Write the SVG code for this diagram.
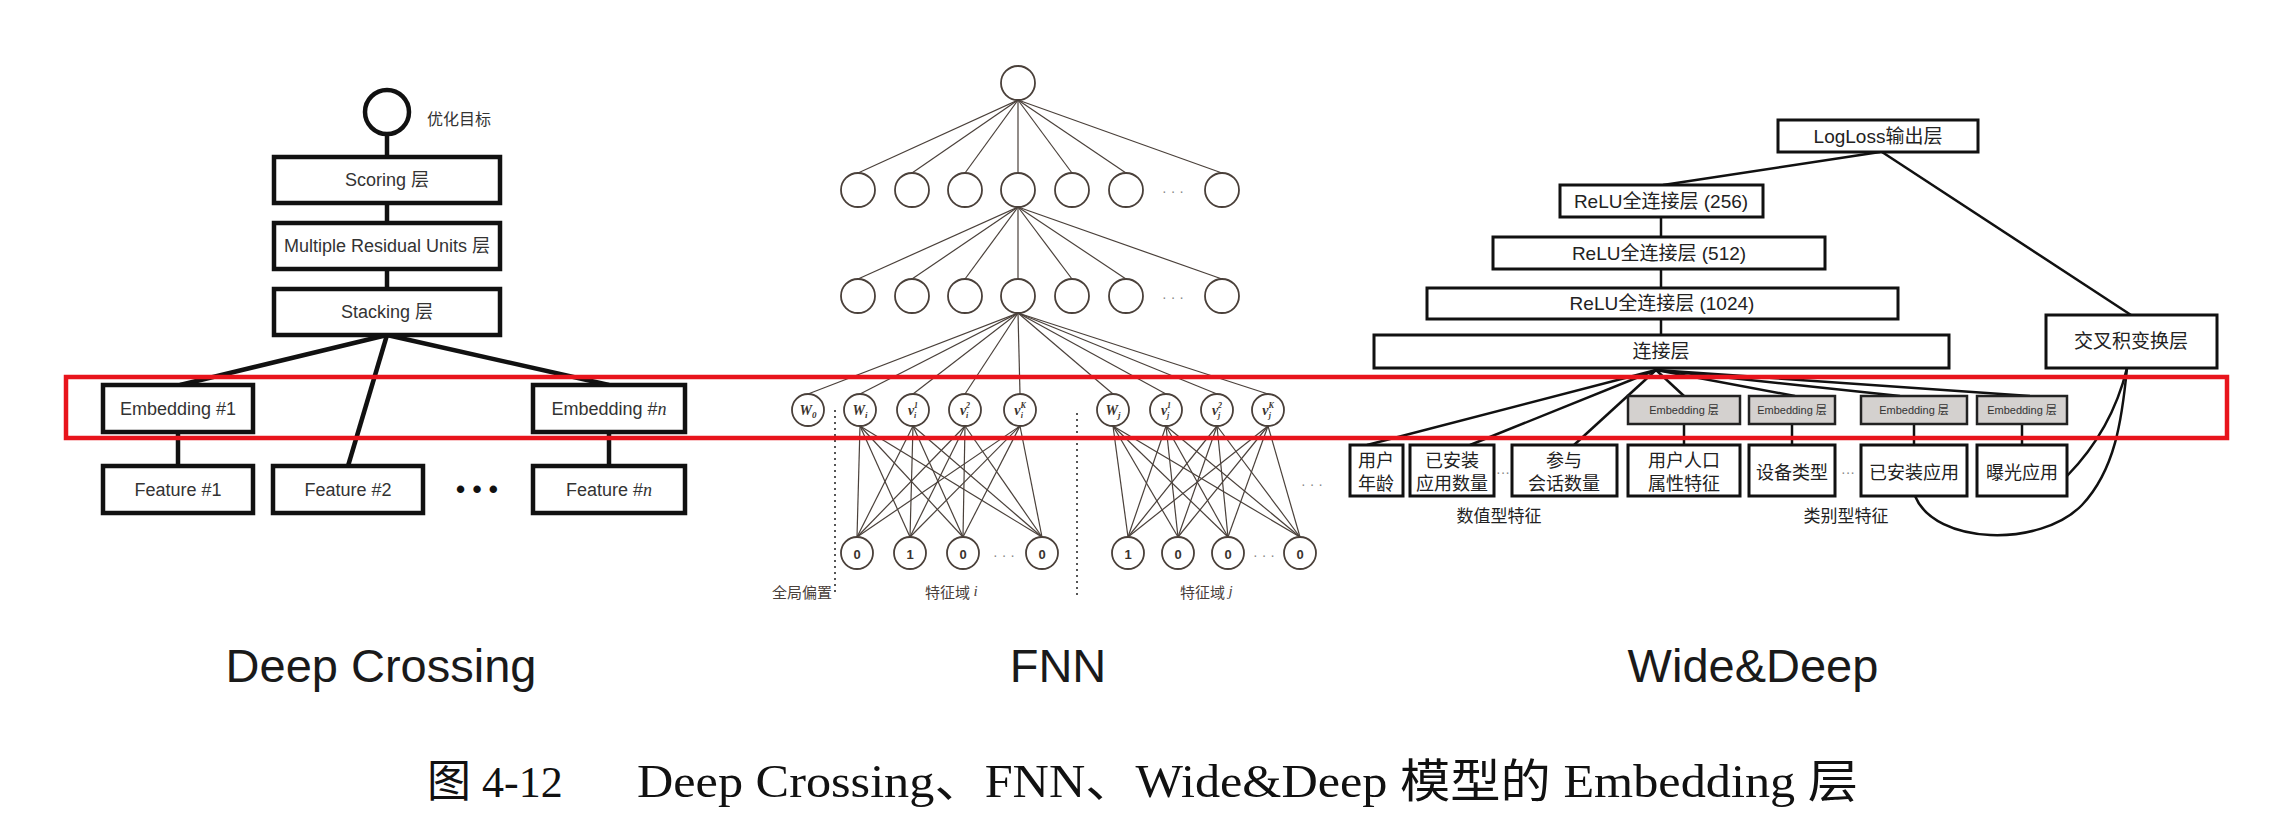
<svg xmlns="http://www.w3.org/2000/svg" width="2284" height="830" viewBox="0 0 2284 830">
<style>
.bg{fill:#fff}
.dcbox{fill:#fff;stroke:#111;stroke-width:4.5}
.dcline{stroke:#111;stroke-width:4.5;fill:none}
.dct{font-family:"Liberation Sans","Noto Sans CJK SC",sans-serif;font-size:18px;fill:#333;text-anchor:middle;dominant-baseline:central}
.fn{fill:#fff;stroke:#4a403a;stroke-width:1.8}
.fe{stroke:#4a403a;stroke-width:1.2;fill:none}
.fsep{stroke:#555;stroke-width:2;stroke-dasharray:2 4;fill:none}
.fl{font-family:"Liberation Serif","Noto Sans CJK SC",serif;font-style:italic;font-weight:bold;font-size:14px;fill:#3a322d;text-anchor:middle}
.fb{font-family:"Liberation Sans",sans-serif;font-weight:bold;font-size:13px;fill:#3a322d;text-anchor:middle;dominant-baseline:central}
.fcap{font-family:"Noto Sans CJK SC",sans-serif;font-size:15px;fill:#4a403a;dominant-baseline:central}
.dots{font-family:"Liberation Sans",sans-serif;font-size:14px;fill:#888;text-anchor:middle;dominant-baseline:central}
.wbox{fill:#fff;stroke:#111;stroke-width:3}
.wemb{fill:#d4d1cf;stroke:#222;stroke-width:2.5}
.wline{stroke:#111;stroke-width:2.5;fill:none}
.wt{font-family:"Liberation Sans","Noto Sans CJK SC",sans-serif;font-size:19px;fill:#222;text-anchor:middle;dominant-baseline:central}
.wf{font-family:"Noto Sans CJK SC",sans-serif;font-size:18px;fill:#222;text-anchor:middle;dominant-baseline:central}
.we{font-family:"Liberation Sans","Noto Sans CJK SC",sans-serif;font-size:11px;fill:#333;text-anchor:middle;dominant-baseline:central}
.title{font-family:"Liberation Sans",sans-serif;font-size:47px;fill:#1a1a1a;text-anchor:middle}
.cap{font-family:"Liberation Serif","Noto Sans CJK SC",serif;font-size:44px;fill:#111}
</style>
<rect class="bg" x="0" y="0" width="2284" height="830"/>

<g id="connectors">
  <!-- Deep Crossing -->
  <line class="dcline" x1="387" y1="134" x2="387" y2="157"/>
  <line class="dcline" x1="387" y1="203" x2="387" y2="223"/>
  <line class="dcline" x1="387" y1="269" x2="387" y2="289"/>
  <line class="dcline" x1="387" y1="335" x2="180" y2="385"/>
  <line class="dcline" x1="387" y1="335" x2="348" y2="466"/>
  <line class="dcline" x1="387" y1="335" x2="609" y2="385"/>
  <line class="dcline" x1="178" y1="432" x2="178" y2="466"/>
  <line class="dcline" x1="609" y1="432" x2="609" y2="466"/>
  <!-- FNN top -> layer2 -->
  <g class="fe">
    <line x1="1018" y1="100" x2="858" y2="173"/>
    <line x1="1018" y1="100" x2="912" y2="173"/>
    <line x1="1018" y1="100" x2="965" y2="173"/>
    <line x1="1018" y1="100" x2="1018" y2="173"/>
    <line x1="1018" y1="100" x2="1072" y2="173"/>
    <line x1="1018" y1="100" x2="1126" y2="173"/>
    <line x1="1018" y1="100" x2="1222" y2="173"/>
    <!-- layer2 -> layer3 -->
    <line x1="1018" y1="207" x2="858" y2="279"/>
    <line x1="1018" y1="207" x2="912" y2="279"/>
    <line x1="1018" y1="207" x2="965" y2="279"/>
    <line x1="1018" y1="207" x2="1018" y2="279"/>
    <line x1="1018" y1="207" x2="1072" y2="279"/>
    <line x1="1018" y1="207" x2="1126" y2="279"/>
    <line x1="1018" y1="207" x2="1222" y2="279"/>
    <!-- layer3 -> embedding -->
    <line x1="1018" y1="313" x2="808" y2="394"/>
    <line x1="1018" y1="313" x2="860" y2="394"/>
    <line x1="1018" y1="313" x2="913" y2="394"/>
    <line x1="1018" y1="313" x2="965" y2="394"/>
    <line x1="1018" y1="313" x2="1020" y2="394"/>
    <line x1="1018" y1="313" x2="1113" y2="394"/>
    <line x1="1018" y1="313" x2="1166" y2="394"/>
    <line x1="1018" y1="313" x2="1217" y2="394"/>
    <line x1="1018" y1="313" x2="1268" y2="394"/>
    <!-- field i bipartite -->
    <line x1="860" y1="426" x2="857" y2="537"/><line x1="860" y1="426" x2="910" y2="537"/><line x1="860" y1="426" x2="963" y2="537"/><line x1="860" y1="426" x2="1042" y2="537"/>
    <line x1="913" y1="426" x2="857" y2="537"/><line x1="913" y1="426" x2="910" y2="537"/><line x1="913" y1="426" x2="963" y2="537"/><line x1="913" y1="426" x2="1042" y2="537"/>
    <line x1="965" y1="426" x2="857" y2="537"/><line x1="965" y1="426" x2="910" y2="537"/><line x1="965" y1="426" x2="963" y2="537"/><line x1="965" y1="426" x2="1042" y2="537"/>
    <line x1="1020" y1="426" x2="857" y2="537"/><line x1="1020" y1="426" x2="910" y2="537"/><line x1="1020" y1="426" x2="963" y2="537"/><line x1="1020" y1="426" x2="1042" y2="537"/>
    <!-- field j bipartite -->
    <line x1="1113" y1="426" x2="1128" y2="537"/><line x1="1113" y1="426" x2="1178" y2="537"/><line x1="1113" y1="426" x2="1228" y2="537"/><line x1="1113" y1="426" x2="1300" y2="537"/>
    <line x1="1166" y1="426" x2="1128" y2="537"/><line x1="1166" y1="426" x2="1178" y2="537"/><line x1="1166" y1="426" x2="1228" y2="537"/><line x1="1166" y1="426" x2="1300" y2="537"/>
    <line x1="1217" y1="426" x2="1128" y2="537"/><line x1="1217" y1="426" x2="1178" y2="537"/><line x1="1217" y1="426" x2="1228" y2="537"/><line x1="1217" y1="426" x2="1300" y2="537"/>
    <line x1="1268" y1="426" x2="1128" y2="537"/><line x1="1268" y1="426" x2="1178" y2="537"/><line x1="1268" y1="426" x2="1228" y2="537"/><line x1="1268" y1="426" x2="1300" y2="537"/>
  </g>
  <line class="fsep" x1="835" y1="410" x2="835" y2="595"/>
  <line class="fsep" x1="1077" y1="413" x2="1077" y2="595"/>
  <!-- Wide&Deep -->
  <line class="wline" x1="1880" y1="152" x2="1663" y2="185"/>
  <line class="wline" x1="1882" y1="152" x2="2131" y2="315"/>
  <line class="wline" x1="1661" y1="217" x2="1661" y2="237"/>
  <line class="wline" x1="1661" y1="269" x2="1661" y2="288"/>
  <line class="wline" x1="1661" y1="319" x2="1661" y2="335"/>
  <line class="wline" x1="1656" y1="370" x2="1367" y2="445"/>
  <line class="wline" x1="1656" y1="370" x2="1470" y2="445"/>
  <line class="wline" x1="1656" y1="370" x2="1574" y2="445"/>
  <line class="wline" x1="1656" y1="370" x2="1684" y2="396"/>
  <line class="wline" x1="1656" y1="370" x2="1795" y2="396"/>
  <line class="wline" x1="1656" y1="370" x2="1900" y2="396"/>
  <line class="wline" x1="1656" y1="370" x2="2030" y2="396"/>
  <line class="wline" x1="1684" y1="424" x2="1684" y2="445"/>
  <line class="wline" x1="1792" y1="424" x2="1792" y2="445"/>
  <line class="wline" x1="1914" y1="424" x2="1914" y2="445"/>
  <line class="wline" x1="2022" y1="424" x2="2022" y2="445"/>
  <path class="wline" d="M2127 368 Q2112 430 2067 476"/>
  <path class="wline" d="M1915 496 C1935 545 2040 548 2082 505 C2115 470 2122 420 2127 368"/>
</g>

<!-- Deep Crossing nodes -->
<g id="dc-objective">
  <circle cx="387" cy="112" r="22" fill="#fff" stroke="#111" stroke-width="4.5"/>
  <text class="dct" x="427" y="119" style="text-anchor:start;font-size:16px">优化目标</text>
</g>
<g id="dc-scoring"><rect class="dcbox" x="274" y="157" width="226" height="46"/><text class="dct" x="387" y="180">Scoring 层</text></g>
<g id="dc-mru"><rect class="dcbox" x="274" y="223" width="226" height="46"/><text class="dct" x="387" y="246">Multiple Residual Units 层</text></g>
<g id="dc-stacking"><rect class="dcbox" x="274" y="289" width="226" height="46"/><text class="dct" x="387" y="312">Stacking 层</text></g>
<g id="dc-emb1"><rect class="dcbox" x="103" y="385" width="150" height="47"/><text class="dct" x="178" y="409">Embedding #1</text></g>
<g id="dc-embn"><rect class="dcbox" x="533" y="385" width="152" height="47"/><text class="dct" x="609" y="409">Embedding #<tspan font-family="Liberation Serif" font-style="italic">n</tspan></text></g>
<g id="dc-feat1"><rect class="dcbox" x="103" y="466" width="150" height="47"/><text class="dct" x="178" y="490">Feature #1</text></g>
<g id="dc-feat2"><rect class="dcbox" x="273" y="466" width="150" height="47"/><text class="dct" x="348" y="490">Feature #2</text></g>
<g id="dc-dots"><text x="477" y="498" style="font-family:'Liberation Sans',sans-serif;font-size:26px;font-weight:bold;fill:#111;text-anchor:middle">• • •</text></g>
<g id="dc-featn"><rect class="dcbox" x="533" y="466" width="152" height="47"/><text class="dct" x="609" y="490">Feature #<tspan font-family="Liberation Serif" font-style="italic">n</tspan></text></g>

<!-- FNN nodes -->
<g id="fnn-top"><circle class="fn" cx="1018" cy="83" r="17"/></g>
<g id="fnn-l2">
  <circle class="fn" cx="858" cy="190" r="17"/><circle class="fn" cx="912" cy="190" r="17"/><circle class="fn" cx="965" cy="190" r="17"/><circle class="fn" cx="1018" cy="190" r="17"/><circle class="fn" cx="1072" cy="190" r="17"/><circle class="fn" cx="1126" cy="190" r="17"/><circle class="fn" cx="1222" cy="190" r="17"/>
  <text class="dots" x="1173" y="191">· · ·</text>
</g>
<g id="fnn-l3">
  <circle class="fn" cx="858" cy="296" r="17"/><circle class="fn" cx="912" cy="296" r="17"/><circle class="fn" cx="965" cy="296" r="17"/><circle class="fn" cx="1018" cy="296" r="17"/><circle class="fn" cx="1072" cy="296" r="17"/><circle class="fn" cx="1126" cy="296" r="17"/><circle class="fn" cx="1222" cy="296" r="17"/>
  <text class="dots" x="1173" y="297">· · ·</text>
</g>
<g id="fnn-emb">
  <circle class="fn" cx="808" cy="410" r="16"/><text class="fl" x="808" y="415">W<tspan font-size="9" dy="3">0</tspan></text>
  <circle class="fn" cx="860" cy="410" r="16"/><text class="fl" x="860" y="415">W<tspan font-size="9" dy="3">i</tspan></text>
  <circle class="fn" cx="913" cy="410" r="16"/><text class="fl" x="913" y="415">v<tspan font-size="8" dy="-7">1</tspan><tspan font-size="8" dx="-4" dy="10">i</tspan></text>
  <circle class="fn" cx="965" cy="410" r="16"/><text class="fl" x="965" y="415">v<tspan font-size="8" dy="-7">2</tspan><tspan font-size="8" dx="-4" dy="10">i</tspan></text>
  <circle class="fn" cx="1020" cy="410" r="16"/><text class="fl" x="1020" y="415">v<tspan font-size="8" dy="-7">K</tspan><tspan font-size="8" dx="-5" dy="10">i</tspan></text>
  <circle class="fn" cx="1113" cy="410" r="16"/><text class="fl" x="1113" y="415">W<tspan font-size="9" dy="3">j</tspan></text>
  <circle class="fn" cx="1166" cy="410" r="16"/><text class="fl" x="1166" y="415">v<tspan font-size="8" dy="-7">1</tspan><tspan font-size="8" dx="-4" dy="10">j</tspan></text>
  <circle class="fn" cx="1217" cy="410" r="16"/><text class="fl" x="1217" y="415">v<tspan font-size="8" dy="-7">2</tspan><tspan font-size="8" dx="-4" dy="10">j</tspan></text>
  <circle class="fn" cx="1268" cy="410" r="16"/><text class="fl" x="1268" y="415">v<tspan font-size="8" dy="-7">K</tspan><tspan font-size="8" dx="-5" dy="10">j</tspan></text>
</g>
<g id="fnn-input-i">
  <circle class="fn" cx="857" cy="553" r="16"/><text class="fb" x="857" y="554">0</text>
  <circle class="fn" cx="910" cy="553" r="16"/><text class="fb" x="910" y="554">1</text>
  <circle class="fn" cx="963" cy="553" r="16"/><text class="fb" x="963" y="554">0</text>
  <text class="dots" x="1004" y="555">· · ·</text>
  <circle class="fn" cx="1042" cy="553" r="16"/><text class="fb" x="1042" y="554">0</text>
</g>
<g id="fnn-input-j">
  <circle class="fn" cx="1128" cy="553" r="16"/><text class="fb" x="1128" y="554">1</text>
  <circle class="fn" cx="1178" cy="553" r="16"/><text class="fb" x="1178" y="554">0</text>
  <circle class="fn" cx="1228" cy="553" r="16"/><text class="fb" x="1228" y="554">0</text>
  <text class="dots" x="1264" y="555">· · ·</text>
  <circle class="fn" cx="1300" cy="553" r="16"/><text class="fb" x="1300" y="554">0</text>
  <text class="dots" x="1312" y="484">· · ·</text>
</g>
<g id="fnn-labels">
  <text class="fcap" x="772" y="591">全局偏置</text>
  <text class="fcap" x="925" y="591">特征域 <tspan font-family="Liberation Serif" font-style="italic">i</tspan></text>
  <text class="fcap" x="1180" y="591">特征域 <tspan font-family="Liberation Serif" font-style="italic">j</tspan></text>
</g>

<!-- Wide&Deep nodes -->
<g id="wd-logloss"><rect class="wbox" x="1778" y="120" width="200" height="32"/><text class="wt" x="1878" y="136">LogLoss输出层</text></g>
<g id="wd-relu256"><rect class="wbox" x="1560" y="185" width="203" height="32"/><text class="wt" x="1661" y="201">ReLU全连接层 (256)</text></g>
<g id="wd-relu512"><rect class="wbox" x="1493" y="237" width="332" height="32"/><text class="wt" x="1659" y="253">ReLU全连接层 (512)</text></g>
<g id="wd-relu1024"><rect class="wbox" x="1427" y="288" width="471" height="31"/><text class="wt" x="1662" y="303">ReLU全连接层 (1024)</text></g>
<g id="wd-concat"><rect class="wbox" x="1374" y="335" width="575" height="33"/><text class="wt" x="1661" y="351">连接层</text></g>
<g id="wd-cross"><rect class="wbox" x="2046" y="315" width="171" height="53"/><text class="wt" x="2131" y="341">交叉积变换层</text></g>
<g id="wd-emb1"><rect class="wemb" x="1628" y="396" width="112" height="28"/><text class="we" x="1684" y="410">Embedding 层</text></g>
<g id="wd-emb2"><rect class="wemb" x="1749" y="396" width="86" height="28"/><text class="we" x="1792" y="410">Embedding 层</text></g>
<g id="wd-emb3"><rect class="wemb" x="1861" y="396" width="106" height="28"/><text class="we" x="1914" y="410">Embedding 层</text></g>
<g id="wd-emb4"><rect class="wemb" x="1977" y="396" width="90" height="28"/><text class="we" x="2022" y="410">Embedding 层</text></g>
<g id="wd-f-age"><rect class="wbox" x="1350" y="445" width="53" height="51"/><text class="wf" x="1376" y="459">用户</text><text class="wf" x="1376" y="482">年龄</text></g>
<g id="wd-f-appcount"><rect class="wbox" x="1410" y="445" width="84" height="51"/><text class="wf" x="1452" y="459">已安装</text><text class="wf" x="1452" y="482">应用数量</text></g>
<g id="wd-dots1"><text class="dots" x="1503" y="472">···</text></g>
<g id="wd-f-session"><rect class="wbox" x="1512" y="445" width="105" height="51"/><text class="wf" x="1564" y="459">参与</text><text class="wf" x="1564" y="482">会话数量</text></g>
<g id="wd-f-demo"><rect class="wbox" x="1628" y="445" width="112" height="51"/><text class="wf" x="1684" y="459">用户人口</text><text class="wf" x="1684" y="482">属性特征</text></g>
<g id="wd-f-device"><rect class="wbox" x="1749" y="445" width="86" height="51"/><text class="wf" x="1792" y="471">设备类型</text></g>
<g id="wd-dots2"><text class="dots" x="1848" y="472">···</text></g>
<g id="wd-f-installed"><rect class="wbox" x="1861" y="445" width="106" height="51"/><text class="wf" x="1914" y="471">已安装应用</text></g>
<g id="wd-f-impression"><rect class="wbox" x="1977" y="445" width="90" height="51"/><text class="wf" x="2022" y="471">曝光应用</text></g>
<g id="wd-labels">
  <text class="wf" x="1499" y="514" style="font-size:17px">数值型特征</text>
  <text class="wf" x="1846" y="514" style="font-size:17px">类别型特征</text>
</g>

<!-- highlight -->
<g id="highlight"><rect x="66" y="377" width="2161" height="61" fill="none" stroke="#e8141c" stroke-width="4.5"/></g>

<!-- titles -->
<g id="titles">
  <text class="title" x="381" y="682">Deep Crossing</text>
  <text class="title" x="1058" y="682">FNN</text>
  <text class="title" x="1753" y="682">Wide&amp;Deep</text>
</g>
<g id="caption">
  <text class="cap" x="427" y="797">图 4-12</text>
  <text class="cap" x="637" y="797" style="font-size:46px" textLength="1221" lengthAdjust="spacingAndGlyphs">Deep Crossing、FNN、Wide&amp;Deep 模型的 Embedding 层</text>
</g>
</svg>
